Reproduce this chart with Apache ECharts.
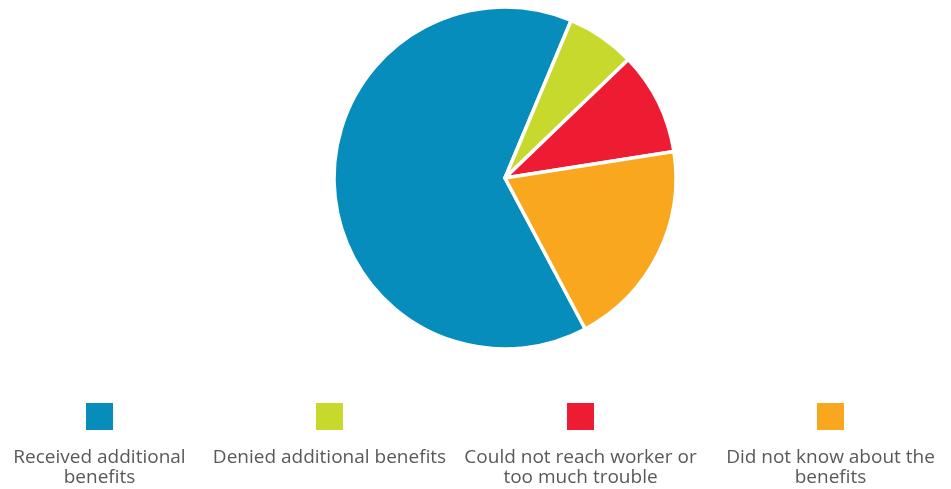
<!DOCTYPE html>
<html>
<head>
<meta charset="utf-8">
<script src="https://cdn.jsdelivr.net/npm/echarts@6/dist/echarts.min.js"></script>
<style>html,body{margin:0;padding:0;background:#fff}#c{width:951px;height:489px}</style>
</head>
<body>
<div id="c"></div>
<script>
const categories = ['Received additional benefits', 'Denied additional benefits', 'Could not reach worker or too much trouble', 'Did not know about the benefits'];
const legendLines = [['Received additional', 'benefits'], ['Denied additional benefits'], ['Could not reach worker or', 'too much trouble'], ['Did not know about the', 'benefits']];
const values = [64.1, 6.5, 9.7, 19.7];
const colors = ['#078dbc', '#c7d92d', '#ed1c33', '#f9a71e'];
const legendCenters = [99.5, 329.5, 580.5, 830.5];

const chart = echarts.init(document.getElementById('c'));
const legendWidth = 260;
const legends = categories.map((name, i) => ({
  data: [name],
  left: legendCenters[i] - legendWidth / 2 - 5,
  top: 403,
  padding: 0,
  itemWidth: 0,
  itemHeight: 0,
  icon: 'none',
  selectedMode: false,
  formatter: () => '{sq|}\n{sp| }\n' + legendLines[i].map(l => '{t|' + l + '}').join('\n'),
  textStyle: {
    width: legendWidth,
    rich: {
      sq: { backgroundColor: colors[i], width: 27, height: 27, lineHeight: 27, align: 'center' },
      sp: { fontSize: 1, lineHeight: 18, align: 'center' },
      t: { fontFamily: 'Open Sans', fontSize: 19, lineHeight: 20, color: '#58595b', align: 'center' }
    }
  }
}));

chart.setOption({
  animation: false,
  color: colors,
  legend: legends,
  series: [{
    type: 'pie',
    center: [505, 178],
    radius: 171,
    startAngle: -62,
    clockwise: true,
    label: { show: false },
    labelLine: { show: false },
    itemStyle: { borderColor: '#fff', borderWidth: 3.5 },
    emphasis: { scale: false },
    data: categories.map((n, i) => ({ name: n, value: values[i] }))
  }]
});
</script>
</body>
</html>
